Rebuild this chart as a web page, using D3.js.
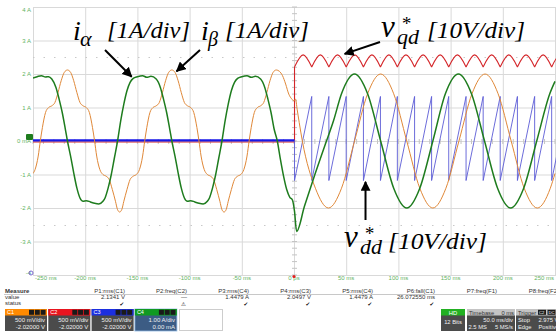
<!DOCTYPE html>
<html>
<head>
<meta charset="utf-8">
<script src="https://cdn.jsdelivr.net/npm/d3@7"></script>
<style>
  html, body { margin: 0; padding: 0; background: #fff; }
  svg { display: block; }
</style>
</head>
<body>
<script>
// ---- axis ticks ----
const xTicks = [-250, -200, -150, -100, -50, 0, 50, 100, 150, 200, 250];
const xTickLabels = ["-250 ms", "-200 ms", "-150 ms", "-100 ms", "-50 ms", "0 ps", "50 ms", "100 ms", "150 ms", "200 ms", "250 ms"];
const yTicks = [4, 3, 2, 1, 0, -1, -2, -3, -4];
const yTickLabels = ["4 A", "3 A", "2 A", "1 A", "0 mA", "-1 A", "-2 A", "-3 A", "-4"];
const dottedLevels = [2.5, -2.5];

// ---- traces (time ms, value in div) ----
// C4, i_alpha
const iAlpha = [
  [-250, 1.88], [-246, 1.92], [-242, 1.95], [-238, 1.91], [-235, 1.92], [-232, 1.85], [-228, 1.6], [-225, 1.25],
  [-222, 0.85], [-219, 0.35], [-217, 0], [-214, -0.45], [-211, -0.95], [-208, -1.4], [-205, -1.7], [-202, -1.8],
  [-199, -1.78], [-195, -1.82], [-191, -1.86], [-187, -1.88], [-183, -1.8], [-181, -1.7], [-178, -1.4], [-175, -1.0],
  [-172, -0.5], [-169, 0], [-166, 0.6], [-163, 1.1], [-160, 1.5], [-157, 1.75], [-154, 1.87], [-150, 1.92],
  [-145, 1.95], [-141, 1.9], [-137, 1.93], [-132, 1.85], [-128, 1.6], [-125, 1.25], [-122, 0.85], [-119, 0.35],
  [-117, 0], [-114, -0.45], [-111, -0.95], [-108, -1.4], [-105, -1.7], [-102, -1.8], [-99, -1.78], [-95, -1.82],
  [-91, -1.86], [-87, -1.88], [-83, -1.8], [-81, -1.7], [-78, -1.4], [-75, -1.0], [-72, -0.5], [-69, 0],
  [-66, 0.6], [-63, 1.1], [-60, 1.5], [-57, 1.75], [-54, 1.87], [-50, 1.92], [-45, 1.95], [-41, 1.9],
  [-37, 1.93], [-32, 1.85], [-28, 1.6], [-25, 1.25], [-22, 0.85], [-19, 0.35], [-16, 0], [-13, -0.55],
  [-10, -1.05], [-7, -1.45], [-4, -1.68], [-1.5, -1.76], [0.5, -2.1], [2.5, -2.7], [10, -1.95], [20, -1.0],
  [30, -0.1], [38, 0.62], [45.5, 1.41], [58, 2.0], [70.5, 1.41], [83, 0], [95.5, -1.41], [108, -2.0],
  [120.5, -1.41], [133, 0], [145, 1.41], [157.5, 2.0], [170, 1.41], [182.5, 0], [195, -1.41], [207.5, -2.0],
  [220, -1.41], [232.5, 0], [245, 1.41], [250, 1.78]
];
// C1, i_beta
const iBeta = [
  [-250, -0.97], [-248, -0.85], [-245, -0.45], [-243, 0], [-241, 0.4], [-238, 0.85], [-235, 1.0], [-232, 1.05],
  [-229, 1.15], [-226, 1.45], [-223, 1.8], [-220, 2.05], [-217, 2.12], [-214, 2.05], [-211, 1.8], [-208, 1.45],
  [-205, 1.15], [-202, 1.05], [-199, 1.0], [-196, 0.85], [-193, 0.4], [-191, 0], [-189, -0.45], [-186, -0.85],
  [-183, -1.0], [-180, -1.05], [-177, -1.15], [-174, -1.45], [-171, -1.8], [-169, -2.05], [-167, -2.12], [-165, -2.05],
  [-163, -1.8], [-160, -1.45], [-157, -1.15], [-154, -1.05], [-151, -1.0], [-148, -0.85], [-145, -0.45], [-143, 0],
  [-141, 0.4], [-138, 0.85], [-135, 1.0], [-132, 1.05], [-129, 1.15], [-126, 1.45], [-123, 1.8], [-120, 2.05],
  [-117, 2.12], [-114, 2.05], [-111, 1.8], [-108, 1.45], [-105, 1.15], [-102, 1.05], [-99, 1.0], [-96, 0.85],
  [-93, 0.4], [-91, 0], [-89, -0.45], [-86, -0.85], [-83, -1.0], [-80, -1.05], [-77, -1.15], [-74, -1.45],
  [-71, -1.8], [-69, -2.05], [-67, -2.12], [-65, -2.05], [-63, -1.8], [-60, -1.45], [-57, -1.15], [-54, -1.05],
  [-51, -1.0], [-48, -0.85], [-45, -0.45], [-43, 0], [-41, 0.4], [-38, 0.85], [-35, 1.0], [-32, 1.05],
  [-29, 1.15], [-26, 1.45], [-23, 1.8], [-20, 2.05], [-17, 2.12], [-14, 2.08], [-11, 1.95], [-8, 1.7],
  [-5, 1.4], [-2, 1.25], [0, 1.2], [1.5, 1.25], [3, 0.95], [5, 0.55], [8, 0], [20.5, -1.41],
  [33, -2.0], [45.5, -1.41], [58, 0], [70.5, 1.41], [83, 2.0], [95.5, 1.41], [108, 0], [120.5, -1.41],
  [133, -2.0], [145.5, -1.41], [158, 0], [170.5, 1.41], [183, 2.0], [195.5, 1.41], [208, 0], [220.5, -1.41],
  [233, -2.0], [245.5, -1.41], [250, -0.97]
];
// carrier instants: cusps of v*qd and resets of v*dd (ms)
const carrierT = [0.5, 17, 33.4, 50, 66.5, 82.8, 99, 115.5, 131.8, 148.2, 164.8, 181.2, 197.5, 214, 230.5, 246.8, 263.2];
const vqdLevels = [-0.03, 2.21, 2.57];   // before step, cusp, crest
const vddLevels = [0.02, -1.18, 1.33];   // before step, bottom, top

// ---- measurement panel ----
const measNames = ["P1:rms(C1)", "P2:freq(C2)", "P3:rms(C4)", "P4:rms(C3)", "P5:rms(C4)", "P6:fall(C1)", "P7:freq(F1)", "P8:freq(F2)"];
const measValues = ["2.1341 V", "\u2014", "1.4479 A", "2.0497 V", "1.4479 A", "26.072550 ms", "", ""];
const measStatus = ["\u2714", "\u26A0", "\u2714", "\u2714", "\u2714", "\u2714", "", ""];
const chNames = ["C1", "C2", "C3", "C4"];
const chColors = ["#ff8a00", "#e8141e", "#1c2fe0", "#109a22"];
const chScales = ["500 mV/div", "500 mV/div", "500 mV/div", "1.00 A/div"];
const chOffsets = ["-2.02000 V", "-2.02000 V", "-2.02000 V", "0.00 mA"];

// ---- layout ----
const WIDTH = 556, HEIGHT = 334;
const GRID = "#d9d9d9";
const LABEL_GREEN = "#5fb35f";
const ALPHA_COLOR = "#1e7c1e";
const BETA_COLOR = "#e08838";
const VQD_COLOR = "#d4262a";
const VDD_COLOR = "#5b5bd6";
const FLAT_BLUE = "#1717e8";
const MATH_FONT = "'Liberation Serif', 'DejaVu Serif', serif";
const UI_FONT = "'Liberation Sans', Arial, sans-serif";

const svg = d3.select("body").append("svg")
  .attr("width", WIDTH)
  .attr("height", HEIGHT)
  .attr("xmlns", "http://www.w3.org/2000/svg");

const x = d3.scaleLinear().domain([-250, 250]).range([33, 555]);
const y = d3.scaleLinear().domain([-4, 4]).range([275, 7]);

// grid
svg.append("g")
  .attr("transform", `translate(0,${y(-4)})`)
  .call(d3.axisBottom(x).tickValues(xTicks).tickSize(-(y(-4) - y(4))).tickFormat(""))
  .call((g) => g.select(".domain").remove())
  .call((g) => g.selectAll(".tick line").attr("stroke", GRID));
svg.append("g")
  .attr("transform", `translate(${x(-250)},0)`)
  .call(d3.axisLeft(y).tickValues(yTicks).tickSize(-(x(250) - x(-250) + 2)).tickFormat(""))
  .call((g) => g.select(".domain").remove())
  .call((g) => g.selectAll(".tick line").attr("stroke", GRID));

// minor ticks on the centre lines
svg.append("g").selectAll("line")
  .data(d3.range(-4, 4.01, 0.2))
  .join("line")
  .attr("x1", x(0) - 2).attr("x2", x(0) + 3)
  .attr("y1", (d) => y(d)).attr("y2", (d) => y(d))
  .attr("stroke", "#c4c4c4");
svg.append("g").selectAll("line")
  .data(d3.range(-250, 251, 10))
  .join("line")
  .attr("y1", y(0) - 2).attr("y2", y(0) + 3)
  .attr("x1", (d) => x(d)).attr("x2", (d) => x(d))
  .attr("stroke", "#c4c4c4");

// dotted levels
svg.append("g").selectAll("line")
  .data(dottedLevels)
  .join("line")
  .attr("x1", x(-250)).attr("x2", x(250))
  .attr("y1", (d) => Math.round(y(d)) + 0.5).attr("y2", (d) => Math.round(y(d)) + 0.5)
  .attr("stroke", "#c8c8c8")
  .attr("stroke-dasharray", "1.5,9");

// tick labels
svg.append("g").selectAll("text")
  .data(yTicks)
  .join("text")
  .attr("x", 31)
  .attr("y", (d) => Math.min(Math.max(y(d), 10), 273))
  .attr("dy", "0.35em")
  .attr("text-anchor", "end")
  .attr("font-family", UI_FONT)
  .attr("font-size", 6)
  .attr("fill", LABEL_GREEN)
  .text((d, i) => yTickLabels[i]);
svg.append("g").selectAll("text")
  .data(xTicks)
  .join("text")
  .attr("x", (d, i) => i === 0 ? x(d) + 2 : i === xTicks.length - 1 ? x(d) - 1 : x(d))
  .attr("y", 280)
  .attr("text-anchor", (d, i) => i === 0 ? "start" : i === xTicks.length - 1 ? "end" : "middle")
  .attr("font-family", UI_FONT)
  .attr("font-size", 6)
  .attr("fill", LABEL_GREEN)
  .text((d, i) => xTickLabels[i]);

// traces
svg.append("clipPath").attr("id", "plot-clip")
  .append("rect")
  .attr("x", x(-250)).attr("y", y(4))
  .attr("width", x(250) - x(-250) + 1).attr("height", y(-4) - y(4));
const traces = svg.append("g").attr("clip-path", "url(#plot-clip)").attr("fill", "none");

const smooth = d3.line().x((d) => x(d[0])).y((d) => y(d[1])).curve(d3.curveMonotoneX);
const straight = d3.line().x((d) => x(d[0])).y((d) => y(d[1]));
const arc = d3.line().x((d) => x(d[0])).y((d) => y(d[1])).curve(d3.curveNatural);

// v*qd (red): flat, step, rectified ripple
const [qdBefore, qdCusp, qdCrest] = vqdLevels;
let qdPath = straight([[-250, qdBefore], [carrierT[0], qdBefore], [carrierT[0], qdCusp]]);
for (let i = 0; i < carrierT.length - 1; i++) {
  const a = carrierT[i], b = carrierT[i + 1];
  qdPath += arc([[a, qdCusp], [(a + b) / 2, qdCrest], [b, qdCusp]]);
}
traces.append("path").attr("d", qdPath).attr("stroke", VQD_COLOR).attr("stroke-width", 1.1);

// v*dd (blue): flat then sawtooth
const [ddBefore, ddLow, ddHigh] = vddLevels;
traces.append("path")
  .attr("d", straight([[-250, ddBefore], [carrierT[0], ddBefore]]))
  .attr("stroke", FLAT_BLUE).attr("stroke-width", 2.2);
const saw = [[carrierT[0], ddBefore]];
carrierT.forEach((t, i) => {
  if (i > 0) saw.push([t, ddHigh]);
  saw.push([t, ddLow]);
});
traces.append("path").attr("d", straight(saw)).attr("stroke", VDD_COLOR).attr("stroke-width", 0.9);

// i_beta (orange), i_alpha (green)
traces.append("path").attr("d", smooth(iBeta)).attr("stroke", BETA_COLOR).attr("stroke-width", 1);
traces.append("path").attr("d", smooth(iAlpha)).attr("stroke", ALPHA_COLOR).attr("stroke-width", 1.5)
  .attr("stroke-linejoin", "round");

// markers: channel ground, trigger, lower icon
svg.append("rect").attr("x", 26).attr("y", y(0) - 7).attr("width", 7).attr("height", 6).attr("rx", 1)
  .attr("fill", ALPHA_COLOR);
svg.append("circle").attr("cx", x(0)).attr("cy", y(-4) + 1.5).attr("r", 1.6).attr("fill", "#e02020");
svg.append("circle").attr("cx", 31).attr("cy", 273).attr("r", 2).attr("fill", "none").attr("stroke", "#7a6ad0");

// ---- annotations ----
svg.append("defs").append("marker")
  .attr("id", "head")
  .attr("viewBox", "0 0 10 10")
  .attr("refX", 9).attr("refY", 5)
  .attr("markerWidth", 5).attr("markerHeight", 5)
  .attr("orient", "auto")
  .append("path").attr("d", "M0,0L10,5L0,10Z").attr("fill", "#000");

function arrow(x1, y1, x2, y2) {
  svg.append("line")
    .attr("x1", x1).attr("y1", y1).attr("x2", x2).attr("y2", y2)
    .attr("stroke", "#000").attr("stroke-width", 2)
    .attr("marker-end", "url(#head)");
}
// one text element, each part placed on its own (x, y, size)
function mathText(parts, len) {
  const t = svg.append("text")
    .attr("font-family", MATH_FONT)
    .attr("font-style", "italic")
    .attr("fill", "#000");
  parts.forEach(([px, py, size, str]) => {
    t.append("tspan").attr("x", px).attr("y", py).attr("font-size", size).text(str);
  });
  return t;
}
function bracket(px, py, str, len) {
  svg.append("text")
    .attr("x", px).attr("y", py)
    .attr("font-family", MATH_FONT)
    .attr("font-style", "italic")
    .attr("font-size", 24)
    .attr("textLength", len).attr("lengthAdjust", "spacingAndGlyphs")
    .text(str);
}

// i_alpha [1A/div]
mathText([[73, 40, 28, "i"], [80, 46, 22, "\u03B1"]]);
bracket(107, 38, "[1A/div]", 83);
arrow(105, 50, x(-155.5), y(1.92));

// i_beta [1A/div]
mathText([[201, 40, 28, "i"], [208, 46, 20, "\u03B2"]]);
bracket(225, 38, "[1A/div]", 84);
arrow(200, 50, x(-112.5), y(2.08));

// v*qd [10V/div]
mathText([[381, 37, 31, "v"], [401, 30, 19, "*"], [397, 44, 22, "qd"]]);
bracket(427, 38, "[10V/div]", 98);
arrow(380, 42, x(48.5), y(2.6));

// v*dd [10V/div]
mathText([[344, 247, 31, "v"], [364, 240, 19, "*"], [360, 254, 22, "dd"]]);
bracket(388, 249, "[10V/div]", 99);
arrow(x(68.5), 220, x(68.5), y(-1.22));

// ---- measurement panel ----
const panel = svg.append("g").attr("font-family", UI_FONT).attr("font-size", 6).attr("fill", "#333");
const colRight = measNames.map((d, i) => 125 + 62 * i);
panel.append("text").attr("x", 5).attr("y", 293).attr("font-weight", "bold").text("Measure");
panel.append("text").attr("x", 5).attr("y", 299).text("value");
panel.append("text").attr("x", 5).attr("y", 305).text("status");
panel.append("line").attr("x1", 4).attr("x2", WIDTH).attr("y1", 294.5).attr("y2", 294.5)
  .attr("stroke", "#c8c8c8");
panel.selectAll(".mname").data(measNames).join("text").attr("class", "mname")
  .attr("x", (d, i) => colRight[i]).attr("y", 293).attr("text-anchor", "end").text((d) => d);
panel.selectAll(".mval").data(measValues).join("text").attr("class", "mval")
  .attr("x", (d, i) => colRight[i]).attr("y", 299).attr("text-anchor", "end").text((d) => d);
panel.selectAll(".mstat").data(measStatus).join("text").attr("class", "mstat")
  .attr("x", (d, i) => colRight[i] - 1).attr("y", 305.5).attr("text-anchor", "end")
  .attr("font-family", "'DejaVu Sans', sans-serif").attr("font-size", 5.5).attr("fill", "#222")
  .text((d) => d);

// channel boxes
const BOX_W = 42, BOX_Y = 309, HEAD_H = 6.5, BOX_H = 22;
const boxX = chNames.map((d, i) => 5 + 43.3 * i);
chNames.forEach((name, i) => {
  const g = svg.append("g").attr("transform", `translate(${boxX[i]},${BOX_Y})`)
    .attr("font-family", UI_FONT);
  g.append("rect").attr("width", BOX_W).attr("height", BOX_H)
    .attr("fill", i === 3 ? "#3c5c84" : "#4b4b4b")
    .attr("stroke", i === 3 ? "#8fb7e0" : "none").attr("stroke-width", 0.8);
  g.append("rect").attr("width", BOX_W).attr("height", HEAD_H).attr("fill", chColors[i]);
  g.append("text").attr("x", 2).attr("y", 5.3).attr("font-size", 5.5).attr("fill", "#fff").text(name);
  [0, 1, 2].forEach((k) => {
    g.append("rect").attr("x", BOX_W - 18 + k * 5.8).attr("y", 0.8).attr("width", 5).attr("height", 5)
      .attr("fill", "#1a1a1a");
  });
  g.append("text").attr("x", BOX_W - 2).attr("y", 12.8).attr("text-anchor", "end")
    .attr("font-size", 6).attr("fill", "#f0f0f0").text(chScales[i]);
  g.append("text").attr("x", BOX_W - 2).attr("y", 19.5).attr("text-anchor", "end")
    .attr("font-size", 6).attr("fill", "#f0f0f0").text(chOffsets[i]);
});
svg.append("rect").attr("x", 179.5).attr("y", BOX_Y + 0.5).attr("width", 43).attr("height", BOX_H - 1)
  .attr("fill", "#fff").attr("stroke", "#9a9a9a").attr("stroke-dasharray", "1,1");

// right side status boxes
const st = svg.append("g").attr("font-family", UI_FONT).attr("font-size", 5.8);
function statusBox(bx, bw, headFill) {
  st.append("rect").attr("x", bx).attr("y", BOX_Y).attr("width", bw).attr("height", BOX_H).attr("fill", "#4b4b4b");
  st.append("rect").attr("x", bx).attr("y", BOX_Y).attr("width", bw).attr("height", HEAD_H).attr("fill", headFill);
}
function stText(px, py, str, anchor, fill) {
  st.append("text").attr("x", px).attr("y", py).attr("text-anchor", anchor || "start")
    .attr("fill", fill || "#f0f0f0").text(str);
}
statusBox(441, 24, "#22b022");
stText(453, 314.5, "HD", "middle", "#fff");
stText(453, 324, "12 Bits", "middle");
statusBox(467, 48, "#c4c4c4");
stText(469, 314.5, "Timebase", "start", "#333");
stText(514, 314.5, "0 ms", "end", "#333");
stText(513, 321.5, "50.0 ms/div", "end");
stText(468.5, 328.5, "2.5 MS");
stText(513, 328.5, "5 MS/s", "end");
statusBox(516, 42, "#c4c4c4");
stText(518, 314.5, "Trigger", "start", "#333");
st.append("rect").attr("x", 538).attr("y", BOX_Y + 0.8).attr("width", 8).attr("height", 5).attr("fill", "#1a1a1a");
st.append("rect").attr("x", 547.5).attr("y", BOX_Y + 0.8).attr("width", 8).attr("height", 5).attr("fill", "#1a1a1a");
st.append("text").attr("x", 539).attr("y", 314.2).attr("font-size", 4.2).attr("fill", "#fff").text("C2");
st.append("text").attr("x", 548.5).attr("y", 314.2).attr("font-size", 4.2).attr("fill", "#fff").text("DC");
stText(518, 321.5, "Stop");
stText(538.5, 321.5, "2.975 V");
stText(518, 328.5, "Edge");
stText(538.5, 328.5, "Positive");
</script>
</body>
</html>
